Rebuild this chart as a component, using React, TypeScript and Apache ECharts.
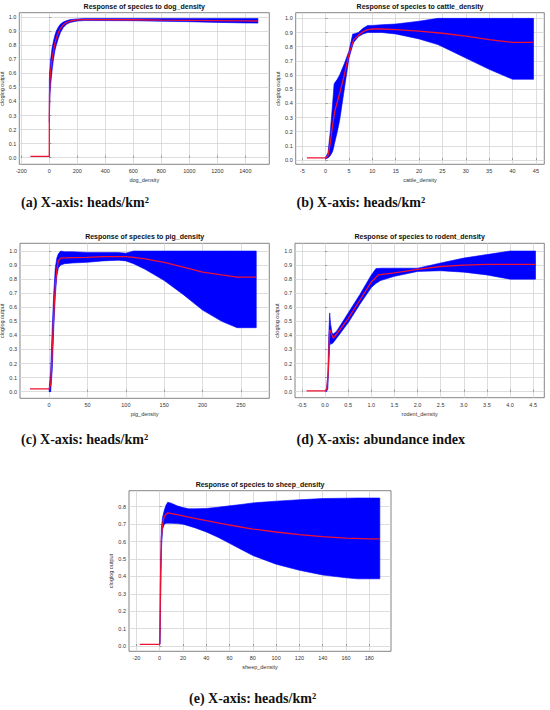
import React, { useEffect, useRef } from 'react';
import * as echarts from 'echarts';

// ---------- (a) dog_density ----------
const redXA = [-135, 0, 0.5, 2, 5, 10, 20, 30, 40, 50, 65, 80, 100, 125, 150, 200, 250, 300, 600, 800, 1000, 1200, 1400, 1490];
const redYA = [0.01, 0.01, 0.3, 0.45, 0.55, 0.62, 0.7, 0.76, 0.81, 0.85, 0.89, 0.92, 0.945, 0.962, 0.972, 0.98, 0.982, 0.982, 0.981, 0.978, 0.977, 0.975, 0.973, 0.972];
const bandXA = [0.5, 2, 5, 10, 20, 30, 40, 50, 65, 80, 100, 125, 150, 200, 250, 300, 600, 800, 1000, 1200, 1400, 1490];
const bandLoA = [0.25, 0.35, 0.45, 0.52, 0.62, 0.7, 0.76, 0.8, 0.85, 0.89, 0.925, 0.95, 0.962, 0.972, 0.975, 0.975, 0.974, 0.97, 0.967, 0.962, 0.958, 0.957];
const bandHiA = [0.55, 0.6, 0.64, 0.7, 0.78, 0.83, 0.87, 0.9, 0.93, 0.95, 0.965, 0.975, 0.982, 0.987, 0.99, 0.99, 0.99, 0.99, 0.99, 0.99, 0.99, 0.99];
const ticksXA = [-200, 0, 200, 400, 600, 800, 1000, 1200, 1400];

// ---------- (b) cattle_density ----------
const redXB = [-4, 0, 0.5, 1, 1.5, 2, 3, 4, 5, 6, 7, 8, 9, 10, 12, 15, 20, 25, 30, 35, 40, 44.5];
const redYB = [0.015, 0.015, 0.03, 0.12, 0.25, 0.35, 0.47, 0.6, 0.75, 0.85, 0.88, 0.905, 0.92, 0.925, 0.925, 0.92, 0.91, 0.895, 0.875, 0.85, 0.83, 0.83];
const bandXB = [0, 0.5, 1, 1.5, 1.8, 1.85, 2.5, 3, 4, 5, 5.8, 6, 7, 8, 9, 10, 12, 15, 20, 24, 25, 30, 35, 40, 44.5];
const bandLoB = [0.01, 0.015, 0.03, 0.06, 0.1, 0.11, 0.2, 0.28, 0.5, 0.72, 0.81, 0.83, 0.87, 0.89, 0.9, 0.9, 0.9, 0.89, 0.855, 0.815, 0.8, 0.72, 0.64, 0.57, 0.57];
const bandHiB = [0.02, 0.05, 0.2, 0.4, 0.53, 0.54, 0.57, 0.6, 0.68, 0.77, 0.89, 0.89, 0.9, 0.93, 0.95, 0.95, 0.955, 0.96, 0.98, 1.0, 1.0, 1.0, 1.0, 1.0, 1.0];
const ticksXB = [-5, 0, 5, 10, 15, 20, 25, 30, 35, 40, 45];

// ---------- (c) pig_density ----------
const redXC = [-25, 0, 2, 4, 6, 8, 10, 12, 15, 20, 30, 50, 70, 90, 100, 110, 125, 150, 175, 200, 225, 245, 270];
const redYC = [0.02, 0.02, 0.05, 0.3, 0.55, 0.75, 0.87, 0.93, 0.95, 0.952, 0.953, 0.955, 0.96, 0.96, 0.96, 0.955, 0.945, 0.92, 0.885, 0.85, 0.83, 0.815, 0.815];
const bandXC = [0, 2, 4, 6, 8, 10, 12, 15, 20, 30, 50, 70, 90, 100, 110, 125, 150, 175, 200, 225, 245, 270];
const bandLoC = [0.0, 0.0, 0.15, 0.45, 0.68, 0.82, 0.88, 0.9, 0.91, 0.915, 0.92, 0.93, 0.935, 0.93, 0.91, 0.87, 0.79, 0.69, 0.58, 0.5, 0.455, 0.455];
const bandHiC = [0.02, 0.15, 0.45, 0.7, 0.88, 0.95, 0.98, 1.0, 0.995, 0.995, 0.99, 0.99, 0.99, 0.985, 1.0, 1.0, 1.0, 1.0, 1.0, 1.0, 1.0, 1.0];
const ticksXC = [0, 50, 100, 150, 200, 250];

// ---------- (d) rodent_density ----------
const redXD = [-0.4, 0, 0.04, 0.07, 0.09, 0.1, 0.12, 0.15, 0.18, 0.25, 0.5, 0.75, 1.0, 1.15, 1.5, 2.0, 2.5, 3.0, 3.5, 4.0, 4.55];
const redYD = [0.005, 0.005, 0.02, 0.15, 0.35, 0.44, 0.43, 0.4, 0.38, 0.41, 0.52, 0.65, 0.78, 0.83, 0.845, 0.87, 0.89, 0.9, 0.905, 0.905, 0.905];
const bandXD = [0.03, 0.06, 0.08, 0.1, 0.12, 0.15, 0.18, 0.25, 0.5, 0.75, 1.0, 1.1, 1.2, 1.5, 2.0, 2.5, 3.0, 3.5, 4.0, 4.55];
const bandLoD = [0.0, 0.02, 0.2, 0.33, 0.34, 0.34, 0.35, 0.38, 0.49, 0.62, 0.74, 0.77, 0.79, 0.82, 0.855, 0.86, 0.85, 0.83, 0.8, 0.8];
const bandHiD = [0.01, 0.12, 0.4, 0.56, 0.48, 0.42, 0.41, 0.43, 0.56, 0.69, 0.83, 0.875, 0.878, 0.878, 0.878, 0.915, 0.95, 0.975, 1.0, 1.0];
const ticksXD = [-0.5, 0, 0.5, 1, 1.5, 2, 2.5, 3, 3.5, 4, 4.5];

// ---------- (e) sheep_density ----------
const redXE = [-17, 0, 0.3, 0.8, 1.5, 2.5, 4, 7, 15, 25, 40, 60, 80, 100, 120, 140, 160, 180, 189];
const redYE = [0.01, 0.01, 0.1, 0.4, 0.62, 0.7, 0.745, 0.765, 0.755, 0.74, 0.72, 0.695, 0.672, 0.655, 0.64, 0.628, 0.62, 0.615, 0.615];
const bandXE = [0.3, 0.8, 1.5, 2.5, 4, 5.5, 7, 10, 15, 20, 25, 30, 40, 50, 60, 70, 80, 100, 120, 140, 160, 170, 189];
const bandLoE = [0.01, 0.25, 0.55, 0.67, 0.7, 0.705, 0.705, 0.705, 0.703, 0.7, 0.69, 0.68, 0.655, 0.625, 0.59, 0.555, 0.52, 0.47, 0.435, 0.408, 0.392, 0.386, 0.386];
const bandHiE = [0.05, 0.45, 0.68, 0.74, 0.78, 0.81, 0.826, 0.82, 0.805, 0.795, 0.788, 0.788, 0.79, 0.797, 0.805, 0.813, 0.822, 0.832, 0.84, 0.847, 0.849, 0.85, 0.85];
const ticksXE = [-20, 0, 20, 40, 60, 80, 100, 120, 140, 160, 180];

const ticksY = [0, 0.1, 0.2, 0.3, 0.4, 0.5, 0.6, 0.7, 0.8, 0.9, 1.0];
const ticksYE = [0, 0.1, 0.2, 0.3, 0.4, 0.5, 0.6, 0.7, 0.8];

const names = ['dog_density', 'cattle_density', 'pig_density', 'rodent_density', 'sheep_density'];
const captions = [
  '(a) X-axis: heads/km²',
  '(b) X-axis: heads/km²',
  '(c) X-axis: heads/km²',
  '(d) X-axis: abundance index',
  '(e) X-axis: heads/km²',
];

// layout (pixels) and axis extents
const panels = [
  { g: [19.3, 12.7, 250, 151.6], x: [-214, 1571], y: [-0.047, 1.031], tx: ticksXA, ty: ticksY, dec: 0, rx: redXA, ry: redYA, bx: bandXA, lo: bandLoA, hi: bandHiA, cap: [21, 202] },
  { g: [295.7, 12.7, 248.6, 151.6], x: [-6.4, 46.8], y: [-0.03, 1.04], tx: ticksXB, ty: ticksY, dec: 0, rx: redXB, ry: redYB, bx: bandXB, lo: bandLoB, hi: bandHiB, cap: [296.5, 202] },
  { g: [20, 243.3, 249.3, 155], x: [-38, 287], y: [-0.047, 1.055], tx: ticksXC, ty: ticksY, dec: 0, rx: redXC, ry: redYC, bx: bandXC, lo: bandLoC, hi: bandHiC, cap: [21, 439.5] },
  { g: [295, 243.3, 249.3, 154.4], x: [-0.65, 4.74], y: [-0.043, 1.055], tx: ticksXD, ty: ticksY, dec: 1, rx: redXD, ry: redYD, bx: bandXD, lo: bandLoD, hi: bandHiD, cap: [296.5, 439.5] },
  { g: [129, 490.7, 262, 160.6], x: [-26.3, 198.6], y: [-0.03, 0.892], tx: ticksXE, ty: ticksYE, dec: 0, rx: redXE, ry: redYE, bx: bandXE, lo: bandLoE, hi: bandHiE, cap: [189, 698] },
];

const FONT = 'Liberation Sans, Arial, sans-serif';

export default function App() {
  const ref = useRef<HTMLDivElement>(null);
  useEffect(() => {
    if (!ref.current) return;
    const chart = echarts.init(ref.current, null, { renderer: 'svg' });
    const grid: any[] = [];
    const xAxis: any[] = [];
    const yAxis: any[] = [];
    const series: any[] = [];
    const graphic: any[] = [];
    panels.forEach((p, i) => {
      grid.push({
        left: p.g[0], top: p.g[1], width: p.g[2], height: p.g[3],
        show: true, backgroundColor: '#ffffff', borderColor: '#666', borderWidth: 0.8,
        containLabel: false, outerBoundsMode: 'none',
      });
      xAxis.push({
        gridIndex: i, type: 'value', min: p.x[0], max: p.x[1],
        name: names[i], nameLocation: 'middle', nameGap: 13,
        nameTextStyle: { fontSize: 5.5, color: '#333', fontFamily: FONT },
        axisLine: { show: false },
        axisTick: { show: true, inside: true, length: 2, customValues: p.tx, lineStyle: { color: '#666', width: 0.6 } },
        axisLabel: {
          customValues: p.tx, fontSize: 5.5, color: '#333', margin: 4, fontFamily: FONT,
          formatter: (v: number) => (p.dec ? v.toFixed(p.dec) : String(v)),
        },
        splitLine: { show: true, lineStyle: { color: '#d4d4d4', width: 0.8 } },
      });
      yAxis.push({
        gridIndex: i, type: 'value', min: p.y[0], max: p.y[1],
        name: 'cloglog output', nameLocation: 'middle', nameGap: 12,
        nameTextStyle: { fontSize: 5.5, color: '#333', fontFamily: FONT },
        axisLine: { show: false },
        axisTick: { show: true, inside: true, length: 2, customValues: p.ty, lineStyle: { color: '#666', width: 0.6 } },
        axisLabel: {
          customValues: p.ty, fontSize: 5.5, color: '#333', margin: 3, fontFamily: FONT,
          formatter: (v: number) => v.toFixed(1),
        },
        splitLine: { show: true, lineStyle: { color: '#d4d4d4', width: 0.8 } },
      });
      const bx = p.bx, lo = p.lo, hi = p.hi;
      series.push({
        type: 'custom', xAxisIndex: i, yAxisIndex: i, silent: true,
        data: [[bx[0], lo[0]]],
        renderItem: (_params: any, api: any) => {
          const pts: number[][] = [];
          for (let k = 0; k < bx.length; k++) pts.push(api.coord([bx[k], hi[k]]));
          for (let k = bx.length - 1; k >= 0; k--) pts.push(api.coord([bx[k], lo[k]]));
          return { type: 'polygon', shape: { points: pts }, style: { fill: '#0000ff', stroke: '#0000ff', lineWidth: 0.6 } };
        },
        z: 2,
      });
      series.push({
        type: 'line', xAxisIndex: i, yAxisIndex: i, silent: true,
        data: p.rx.map((x, k) => [x, p.ry[k]]),
        showSymbol: false, symbol: 'none',
        lineStyle: { color: '#ee1133', width: 1.3 },
        z: 3,
      });
      graphic.push({
        type: 'text', x: p.g[0] + p.g[2] / 2, y: p.g[1] - 6.5,
        style: { text: 'Response of species to ' + names[i], font: 'bold 7px ' + FONT, fill: '#111', textAlign: 'center', textVerticalAlign: 'middle' },
      });
      graphic.push({
        type: 'text', x: p.cap[0], y: p.cap[1],
        style: { text: captions[i], font: 'bold 14px "Liberation Serif", serif', fill: '#111', textAlign: 'left', textVerticalAlign: 'middle' },
      });
    });
    chart.setOption({
      animation: false,
      backgroundColor: '#ffffff',
      grid, xAxis, yAxis, series, graphic,
    });
    return () => chart.dispose();
  }, []);
  return <div ref={ref} style={{ position: 'fixed', left: 0, top: 0, width: 550, height: 710 }} />;
}
